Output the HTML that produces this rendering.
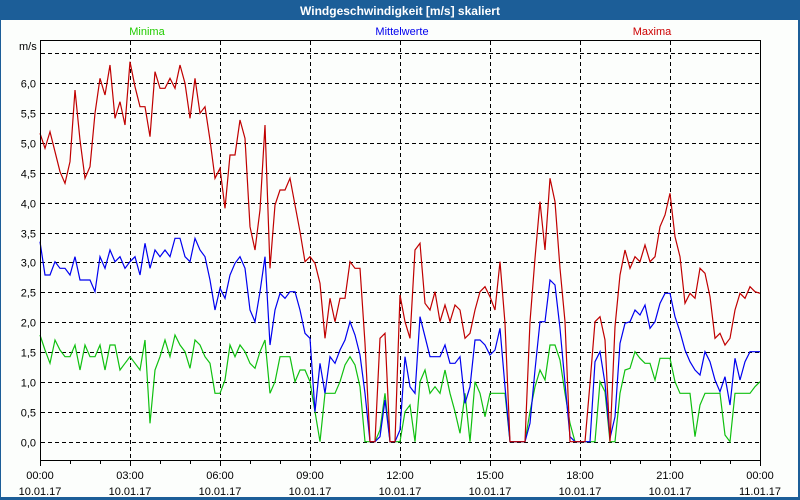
<!DOCTYPE html>
<html><head><meta charset="utf-8"><style>
html,body{margin:0;padding:0;background:#1c5e98;}
svg{display:block;font-family:"Liberation Sans",sans-serif;}
</style></head><body>
<svg id="s" width="800" height="500" xmlns="http://www.w3.org/2000/svg">
<rect x="0" y="0" width="800" height="500" fill="#1c5e98"/>
<rect x="1" y="20" width="797" height="477" fill="#fcfefc"/>
<text x="400" y="15" fill="#fff" font-size="12" font-weight="bold" text-anchor="middle">Windgeschwindigkeit [m/s] skaliert</text>
<text x="147" y="35" fill="#22cc00" font-size="11" text-anchor="middle">Minima</text>
<text x="402" y="35" fill="#0000ee" font-size="11" text-anchor="middle">Mittelwerte</text>
<text x="652" y="35" fill="#cc0000" font-size="11" text-anchor="middle">Maxima</text>
<text x="19" y="50" fill="#000" font-size="11">m/s</text>
<g id="grid" stroke="#000" stroke-width="1" stroke-dasharray="4,3" fill="none"></g>
<g id="labels" font-size="11" fill="#000"></g>
<g id="series" fill="none" stroke-width="1.2"></g>
<rect x="40.5" y="40.5" width="720" height="420" fill="none" stroke="#000" stroke-width="1"/>
</svg>
<script>
var ns="http://www.w3.org/2000/svg";
function el(p,t,a,txt){var e=document.createElementNS(ns,t);for(var k in a)e.setAttribute(k,a[k]);if(txt!=null)e.textContent=txt;p.appendChild(e);return e;}
var g=document.getElementById('grid'),L=document.getElementById('labels'),S=document.getElementById('series');
for(var i=0;i<=13;i++){var y=Math.round(441.7-i*29.87)+0.5;el(g,'line',{x1:41,x2:760,y1:y,y2:y});
 if(i<=12){var v=(i/2).toFixed(1).replace('.',',');el(L,'text',{x:36,y:y+4,'text-anchor':'end'},v);}}
var times=['00:00','03:00','06:00','09:00','12:00','15:00','18:00','21:00','00:00'];
for(var j=0;j<=8;j++){var x=40+j*90;if(j>0&&j<8)el(g,'line',{x1:x+0.5,x2:x+0.5,y1:41,y2:460});
 el(L,'text',{x:x,y:479,'text-anchor':'middle'},times[j]);el(L,'text',{x:x,y:495,'text-anchor':'middle'},j==8?'11.01.17':'10.01.17');}
for(var k=0;k<=24;k++){var x=40+k*30+0.5;el(L,'line',{x1:x,x2:x,y1:460,y2:k%3==0?466:464,stroke:'#000'});}
function conv(arr,ox,oy){return arr.map(function(y,i){return [ox+i*5,oy+y/3];});}
var R1=[250,295,245,305,365,400,335,120,270,385,350,190,85,135,45,205,155,225,35,110,170,170,260,65,115,115,85,115,45,100,205,85,190,170,270,385,355,475,315,315,210,265,530,600,480,225,655,465,420,420,385,465,545,635];
var B1=[575,675,675,635,655,655,675,620,690,690,690,725,620,655,600,635,620,655,635,620,675,580,655,600,620,600,620,565,565,620,635,565,600,620,690,780,715,745,675,640,620,655,780,815,725,620,885,780,730,745,725,725,780,850];
var G1=[855,900,940,870,900,920,920,885,960,885,920,920,885,960,885,885,960,940,920,940,960,870,1120,960,920,870,920,855,885,905,955,870,885,920,940,1030,1030,990,885,920,885,905,940,955,905,870,1030,995,920,920,920,995,960,960];
var R2=[620,640,700,865,745,815,745,745,635,655,655,880,1175,1175,865,850,1175,1175,735,815,865,600,580,760,780,725,815,765,815,765,780,865,850,780,725,710,740,780,635,820,1175,1175,1175,1175,815,625,455,600,385,455,655,815,1175,1175];
var B2=[865,1085,940,1030,920,940,900,870,815,855,915,1030,1175,1175,1160,1050,1175,1175,1140,920,1010,1030,800,860,920,920,920,885,940,940,920,1060,1010,870,870,885,915,900,835,1010,1175,1175,1175,1175,1120,960,815,815,690,705,835,1000,1160,1175];
var G2=[995,1085,1175,1030,1030,1030,995,945,920,945,1010,1175,1175,1175,1140,1030,1175,1175,1175,1085,1065,1175,995,960,1030,1010,1030,960,1030,1085,1150,1030,1175,995,1030,1100,1030,1030,1030,1030,1175,1175,1175,1175,1085,1010,960,990,885,885,930,1030,1120,1175];
var R3=[875,875,700,515,500,570,875,530,375,300,355,320,335,285,335,320,230,195,130,260,320,460,430,445,355,370,440,565,550,585,565,480,430,445,410,425,430];
var B3=[875,875,875,635,605,700,865,800,580,520,515,480,495,465,535,515,460,430,430,500,545,600,635,660,675,605,635,690,725,680,765,625,690,635,605,605,605];
var G3=[875,875,875,875,695,725,875,875,730,660,655,605,625,640,640,690,625,625,625,695,730,730,730,860,765,730,730,730,730,855,875,730,730,730,730,710,695];
function draw(a,b,c,col){var pts=conv(a,40,50).concat(conv(b,310,50)).concat(conv(c,580,150));
 el(S,'polyline',{points:pts.map(function(p){return p[0].toFixed(1)+','+p[1].toFixed(1);}).join(' '),stroke:col});}
draw(G1,G2,G3,'#10c010');draw(B1,B2,B3,'#0000f0');draw(R1,R2,R3,'#c00000');
</script>
</body></html>
